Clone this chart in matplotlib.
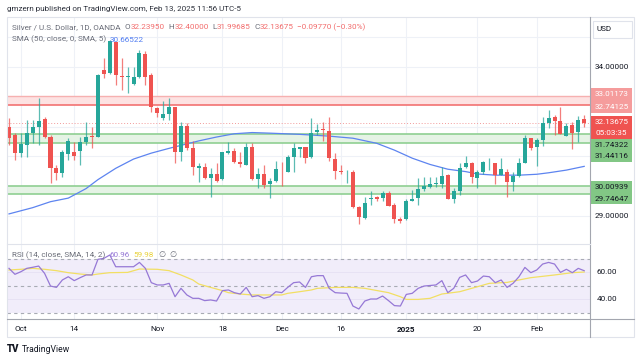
import matplotlib
matplotlib.use('Agg')
import matplotlib.pyplot as plt
from matplotlib.patches import Rectangle
import numpy as np
import pandas as pd

plt.rcParams['font.family'] = ['Roboto', 'DejaVu Sans']

# ---------------- data ----------------
dates = pd.bdate_range('2024-09-27', '2025-02-13')
dates = dates[~dates.isin(pd.to_datetime(['2024-12-25', '2025-01-01']))]

opens = [32.00, 31.72, 31.10, 31.38, 31.80, 32.00, 32.24, 31.66, 30.62, 30.45,
         31.08, 31.16, 31.19, 31.47, 31.70, 31.66, 33.90, 33.79, 34.83, 33.70,
         33.65, 33.42, 33.68, 34.44, 33.73, 32.64, 32.28, 32.41, 32.65, 31.16,
         32.03, 31.27, 30.62, 30.64, 30.26, 30.40, 30.23, 31.10, 31.18, 30.82,
         30.71, 31.30, 30.24, 30.40, 30.06, 30.17, 30.49, 30.46, 30.97, 31.25,
         31.30, 30.97, 31.83, 31.91, 31.85, 30.91, 30.51, 30.46, 30.49, 29.29,
         28.92, 29.56, 29.63, 29.62, 29.76, 29.37, 28.91, 28.89, 29.50, 29.59,
         29.89, 29.98, 30.07, 30.07, 30.38, 29.56, 29.85, 30.63, 30.77, 30.26,
         30.49, 30.77, 30.77, 30.38, 30.46, 30.15, 30.35, 30.79, 31.61, 31.33,
         31.55, 32.11, 32.31, 32.19, 31.70, 32.05, 31.81, 32.2395]
highs = [32.28, 31.77, 31.77, 32.22, 32.22, 32.95, 32.33, 31.72, 30.71, 31.21,
         31.61, 31.49, 31.66, 32.14, 32.00, 33.75, 34.29, 34.91, 34.85, 34.29,
         34.01, 34.01, 34.57, 34.54, 33.79, 32.67, 32.86, 32.95, 32.67, 32.14,
         32.11, 31.52, 30.77, 30.77, 30.60, 30.77, 31.16, 31.49, 31.29, 31.16,
         31.44, 31.44, 30.60, 30.71, 30.26, 30.85, 30.82, 31.05, 31.44, 31.33,
         31.33, 32.28, 32.08, 32.14, 32.33, 31.10, 30.71, 30.54, 30.54, 29.35,
         29.63, 29.85, 29.67, 29.85, 29.85, 29.42, 28.98, 29.56, 29.87, 30.29,
         30.30, 30.30, 30.32, 30.66, 30.40, 29.93, 30.77, 31.02, 30.82, 30.54,
         30.85, 30.94, 30.79, 30.96, 30.57, 30.49, 30.96, 31.72, 31.63, 31.63,
         32.33, 32.56, 32.39, 32.67, 32.11, 32.14, 32.36, 32.40]
lows = [31.38, 30.88, 30.99, 30.99, 31.44, 31.38, 31.61, 30.10, 30.21, 30.32,
        30.88, 30.88, 30.71, 31.38, 31.27, 31.66, 33.62, 33.77, 33.40, 33.23,
        33.12, 33.40, 33.64, 33.40, 32.50, 32.33, 32.22, 32.22, 30.79, 30.85,
        31.21, 30.38, 30.15, 30.24, 29.63, 30.15, 30.21, 31.07, 30.77, 30.63,
        30.71, 30.21, 29.95, 29.93, 29.59, 30.15, 30.02, 30.46, 30.46, 30.99,
        30.79, 30.94, 31.72, 31.52, 30.85, 30.24, 30.40, 30.10, 29.26, 28.72,
        28.89, 29.37, 29.50, 29.51, 29.34, 28.75, 28.75, 28.87, 29.50, 29.37,
        29.85, 29.93, 29.98, 29.93, 29.56, 29.45, 29.70, 30.60, 30.10, 29.95,
        30.40, 30.54, 30.06, 30.38, 29.65, 29.84, 30.32, 30.77, 31.21, 30.68,
        31.36, 31.94, 31.72, 31.75, 31.70, 31.25, 31.49, 31.99685]
closes = [31.61, 31.10, 31.41, 31.80, 32.00, 32.19, 31.66, 30.62, 30.45, 31.16,
          31.52, 31.01, 31.47, 31.66, 31.66, 33.73, 33.77, 34.88, 33.73, 33.68,
          33.71, 33.68, 34.46, 33.68, 32.67, 32.45, 32.42, 32.65, 31.14, 32.03,
          31.27, 30.63, 30.67, 30.26, 30.40, 30.19, 31.14, 31.18, 30.82, 30.74,
          31.30, 30.23, 30.40, 30.04, 30.17, 30.58, 30.46, 30.99, 31.27, 31.30,
          30.94, 31.80, 31.89, 31.89, 30.94, 30.51, 30.49, 30.49, 29.29, 28.98,
          29.45, 29.59, 29.56, 29.76, 29.34, 28.89, 28.84, 29.51, 29.57, 29.89,
          30.01, 30.07, 30.10, 30.35, 29.56, 29.85, 30.62, 30.78, 30.30, 30.49,
          30.80, 30.79, 30.38, 30.57, 30.15, 30.35, 30.79, 31.63, 31.29, 31.55,
          32.11, 32.28, 32.19, 31.75, 32.02, 31.80, 32.22, 32.13675]

# SMA(50) read at selected bars (bar index, value)
sma_idx = [0, 4, 7, 10, 13, 15, 18, 21, 24, 27, 30, 32, 35, 38, 41, 44, 49, 54,
           58, 62, 65, 68, 71, 74, 77, 79, 82, 86, 89, 91, 94, 97]
sma_val = [29.07, 29.28, 29.48, 29.60, 29.92, 30.22, 30.60, 30.91, 31.11, 31.27,
           31.42, 31.52, 31.65, 31.76, 31.80, 31.78, 31.74, 31.68, 31.61, 31.44,
           31.21, 30.94, 30.73, 30.57, 30.49, 30.41, 30.37, 30.37, 30.40, 30.45,
           30.54, 30.66522]

rsi = [62.7, 58.3, 60.2, 62.7, 63.5, 64.4, 59.0, 49.6, 48.6, 54.1,
       56.5, 53.6, 55.8, 57.8, 57.8, 69.4, 70.1, 72.6, 63.9, 63.9,
       63.9, 63.9, 67.1, 62.7, 52.1, 50.4, 50.4, 51.6, 41.7, 47.9,
       43.0, 40.5, 40.5, 38.8, 39.3, 38.5, 46.2, 46.7, 44.7, 43.7,
       48.6, 41.7, 42.5, 40.5, 41.7, 45.4, 44.7, 48.6, 52.1, 52.6,
       48.6, 56.5, 57.3, 57.3, 47.9, 44.7, 44.4, 44.2, 34.8, 32.6,
       38.5, 40.0, 40.0, 42.2, 38.8, 35.1, 34.8, 43.4, 44.2, 47.9,
       49.6, 50.0, 50.4, 53.6, 44.7, 47.9, 56.0, 57.8, 52.1, 53.3,
       57.0, 56.5, 52.1, 54.1, 48.6, 51.6, 56.5, 63.4, 59.5, 61.5,
       65.9, 67.1, 65.9, 59.7, 62.0, 59.5, 62.7, 60.96]

rsi_ma_idx = [0, 2, 4, 6, 8, 10, 12, 14, 15, 17, 20, 22, 25, 27, 29, 31, 32, 34,
              36, 37, 39, 41, 44, 46, 47, 49, 51, 52, 55, 58, 60, 64, 66, 67, 69,
              71, 73, 76, 79, 81, 84, 86, 88, 92, 95, 97]
rsi_ma_val = [61.5, 62.0, 62.7, 62.0, 61.0, 59.5, 58.5, 57.8, 58.5, 59.5, 59.7,
              62.2, 62.0, 61.0, 57.8, 54.1, 51.1, 48.6, 46.2, 44.7, 43.7, 43.0,
              43.0, 43.0, 44.2, 45.4, 46.7, 47.9, 48.6, 48.6, 47.9, 44.7, 41.7,
              39.7, 39.7, 40.5, 43.7, 45.4, 49.1, 51.6, 52.3, 54.1, 55.8, 57.8,
              59.5, 59.98]

red_zone = (32.74125, 33.01173)
green_zones = [(31.44116, 31.74322), (29.74647, 30.00939)]
tick_dates = ['2024-10-01', '2024-10-14', '2024-11-01', '2024-11-18', '2024-12-02',
              '2024-12-16', '2025-01-02', '2025-01-20', '2025-02-03']
tick_labels = ['Oct', '14', 'Nov', '18', 'Dec', '16', '2025', '20', 'Feb']
price_grid = [29, 30, 31, 32, 33, 34, 35]
price_labels = [34, 29]
rsi_levels = [30, 50, 70]
rsi_grid = [40, 60]
last_sma = 30.66522
countdown = '05:03:35'

# ---------------- figure ----------------
W, H = 643, 361
fig = plt.figure(figsize=(W / 100, H / 100), dpi=100)
fig.patch.set_facecolor('white')


def pax(x0, y0, x1, y1, **kw):
    return fig.add_axes([x0 / W, 1 - y1 / H, (x1 - x0) / W, (y1 - y0) / H], **kw)


L, R = 7, 590
ax = pax(L, 17, R, 244)
axr = pax(L, 244, R, 319)
n = len(opens)
x = np.arange(n)
o = np.array(opens); h = np.array(highs); lo = np.array(lows); c = np.array(closes)
for a in (ax, axr):
    a.set_xlim(-0.337, 97.98)
    for s in a.spines.values():
        s.set_visible(False)
    a.set_xticks([]); a.set_yticks([])
    a.set_facecolor('none')
ax.set_ylim(28.06, 35.678)
axr.set_ylim(25.19, 80.74)

tick_pos = [dates.get_loc(pd.Timestamp(d)) for d in tick_dates]
gridc = '#eef1f7'
for p in tick_pos:
    ax.axvline(p, color=gridc, lw=0.8, zorder=0)
    axr.axvline(p, color=gridc, lw=0.8, zorder=0)
for p in price_grid:
    ax.axhline(p, color=gridc, lw=0.8, zorder=0)

# zones
ax.axhspan(*red_zone, color='#fde2e2', lw=0, zorder=1)
ax.axhline(red_zone[1], color='#f6b0b0', lw=1.0, zorder=1)
ax.axhline(red_zone[0], color='#f27272', lw=1.2, zorder=1)
for zlo, zhi in green_zones:
    ax.axhspan(zlo, zhi, color='#e5f3e5', lw=0, zorder=1)
    ax.axhline(zlo, color='#8fcf92', lw=1.2, zorder=1)
    ax.axhline(zhi, color='#8fcf92', lw=1.2, zorder=1)

ax.axhline(c[-1], color='#f29a9a', lw=0.7, ls=(0, (1, 2)), zorder=1)

ax.plot(sma_idx, sma_val, color='#5d84f0', lw=0.9, zorder=2)

up = c >= o
col = np.where(up, '#26a69a', '#ef5350')
ax.vlines(x, lo, h, colors=col, lw=0.9, alpha=0.75, zorder=3)
ax.bar(x, np.maximum(np.abs(c - o), 0.025), bottom=np.minimum(o, c), width=0.68,
       color=col, lw=0, zorder=4)

# RSI pane
axr.axhspan(30, 70, color='#f1edfa', lw=0, zorder=0)
for g in rsi_grid:
    axr.axhline(g, color='#e6e1f3', lw=0.6, zorder=0)
for lv in rsi_levels:
    axr.axhline(lv, color='#a8abb4', lw=0.8, ls=(0, (3, 3)), zorder=1)
axr.plot(rsi_ma_idx, rsi_ma_val, color='#f2df63', lw=0.9, zorder=2)
axr.plot(x, rsi, color='#9678d6', lw=0.9, zorder=3)

# ---------------- overlay (frames, labels, text) ----------------
ov = fig.add_axes([0, 0, 1, 1], zorder=10)
ov.set_xlim(0, W); ov.set_ylim(H, 0); ov.axis('off'); ov.patch.set_alpha(0)
renderer = fig.canvas.get_renderer()


def py(a, v):
    return H - a.transData.transform((0, v))[1]


def pxx(i):
    return ax.transData.transform((i, 0))[0]


def seq_text(x0, y0, parts, size):
    cur = x0
    for s, cc, gap in parts:
        t = ov.text(cur, y0, s, size=size, color=cc, va='center', ha='left')
        cur += t.get_window_extent(renderer).width + gap


ov.add_patch(Rectangle((7, 17), 627, 320, fill=False, ec='#e0e3eb', lw=0.8))
ov.plot([590, 590], [17, 337], color='#a3a6af', lw=0.8)
ov.plot([7, 634], [319, 319], color='#a3a6af', lw=0.8)
ov.plot([7, 590], [244, 244], color='#e0e3eb', lw=0.8)

fs = 5.9
tc = '#131722'
gray = '#6a6d78'
red = '#f26d6d'

# USD box
ov.add_patch(Rectangle((593, 20.5), 39, 17, fc='white', ec='#e0e3eb', lw=0.8))
ov.text(596.5, 29, 'USD', size=fs, color=tc, va='center', ha='left')

for p in price_labels:
    ov.text(595, py(ax, p), f'{p:.5f}', size=fs, color=tc, va='center', ha='left')
for p in rsi_grid:
    ov.text(596.5, py(axr, p), f'{p:.2f}', size=fs, color=tc, va='center', ha='left')


def label_box(y0, hgt, fc, lines, tcol):
    ov.add_patch(Rectangle((591, y0), 41, hgt, fc=fc, ec='none'))
    k = len(lines)
    for j, s in enumerate(lines):
        ov.text(595, y0 + (j + 0.5) * hgt / k, s, size=fs, color=tcol, va='center', ha='left')


rc = (py(ax, red_zone[0]) + py(ax, red_zone[1])) / 2
label_box(rc - 12.5, 25, '#f59c9c', [f'{red_zone[1]:.5f}', f'{red_zone[0]:.5f}'], 'white')
cy = py(ax, c[-1])
label_box(cy - 6.5, 23, '#ef5350', [f'{c[-1]:.5f}', countdown], 'white')
label_box(cy + 16.5, 23, '#82c785', [f'{green_zones[0][1]:.5f}', f'{green_zones[0][0]:.5f}'], tc)
gc = (py(ax, green_zones[1][0]) + py(ax, green_zones[1][1])) / 2
label_box(gc + 3 - 11.5, 23, '#82c785', [f'{green_zones[1][1]:.5f}', f'{green_zones[1][0]:.5f}'], tc)

# time axis
for p, lab in zip(tick_pos, tick_labels):
    ov.text(pxx(p), 329, lab, size=fs, color=tc, ha='center', va='center',
            weight='bold' if lab == '2025' else 'normal')

# header
ov.text(7, 9, 'gmzern published on TradingView.com, Feb 13, 2025 11:56 UTC-5',
        size=5.8, color='#2a2e39', va='center', ha='left')

# legend rows
row1 = [('Silver / U.S. Dollar, 1D, OANDA', gray, 4.5),
        ('O', gray, 0.3), (f'{opens[-1]:.5f}', red, 3.5),
        ('H', gray, 0.3), (f'{highs[-1]:.5f}', red, 3.5),
        ('L', gray, 0.3), (f'{lows[-1]:.5f}', red, 3.5),
        ('C', gray, 0.3), (f'{closes[-1]:.5f}', red, 3.5),
        ('\u22120.09770 (\u22120.30%)', red, 0)]
seq_text(11.7, 26.8, row1, fs)
seq_text(11.7, 39.5, [('SMA (50, close, 0, SMA, 5)', gray, 4),
                      (f'{last_sma:.5f}', '#4f7cf2', 0)], fs)
seq_text(11.7, 255, [('RSI (14, close, SMA, 14, 2)', gray, 4),
                     (f'{rsi[-1]:.2f}', '#9678d6', 4),
                     (f'{rsi_ma_val[-1]:.2f}', '#e9d23b', 5),
                     ('\u2205', gray, 4), ('\u2205', gray, 0)], fs)

# footer
ov.text(7, 349.5, 'TV', size=7, color='#131722', va='center', ha='left', weight='heavy')
ov.text(22, 349.5, 'TradingView', size=6.2, color='#131722', va='center', ha='left')

fig.savefig('out.png', dpi=100, facecolor='white')
